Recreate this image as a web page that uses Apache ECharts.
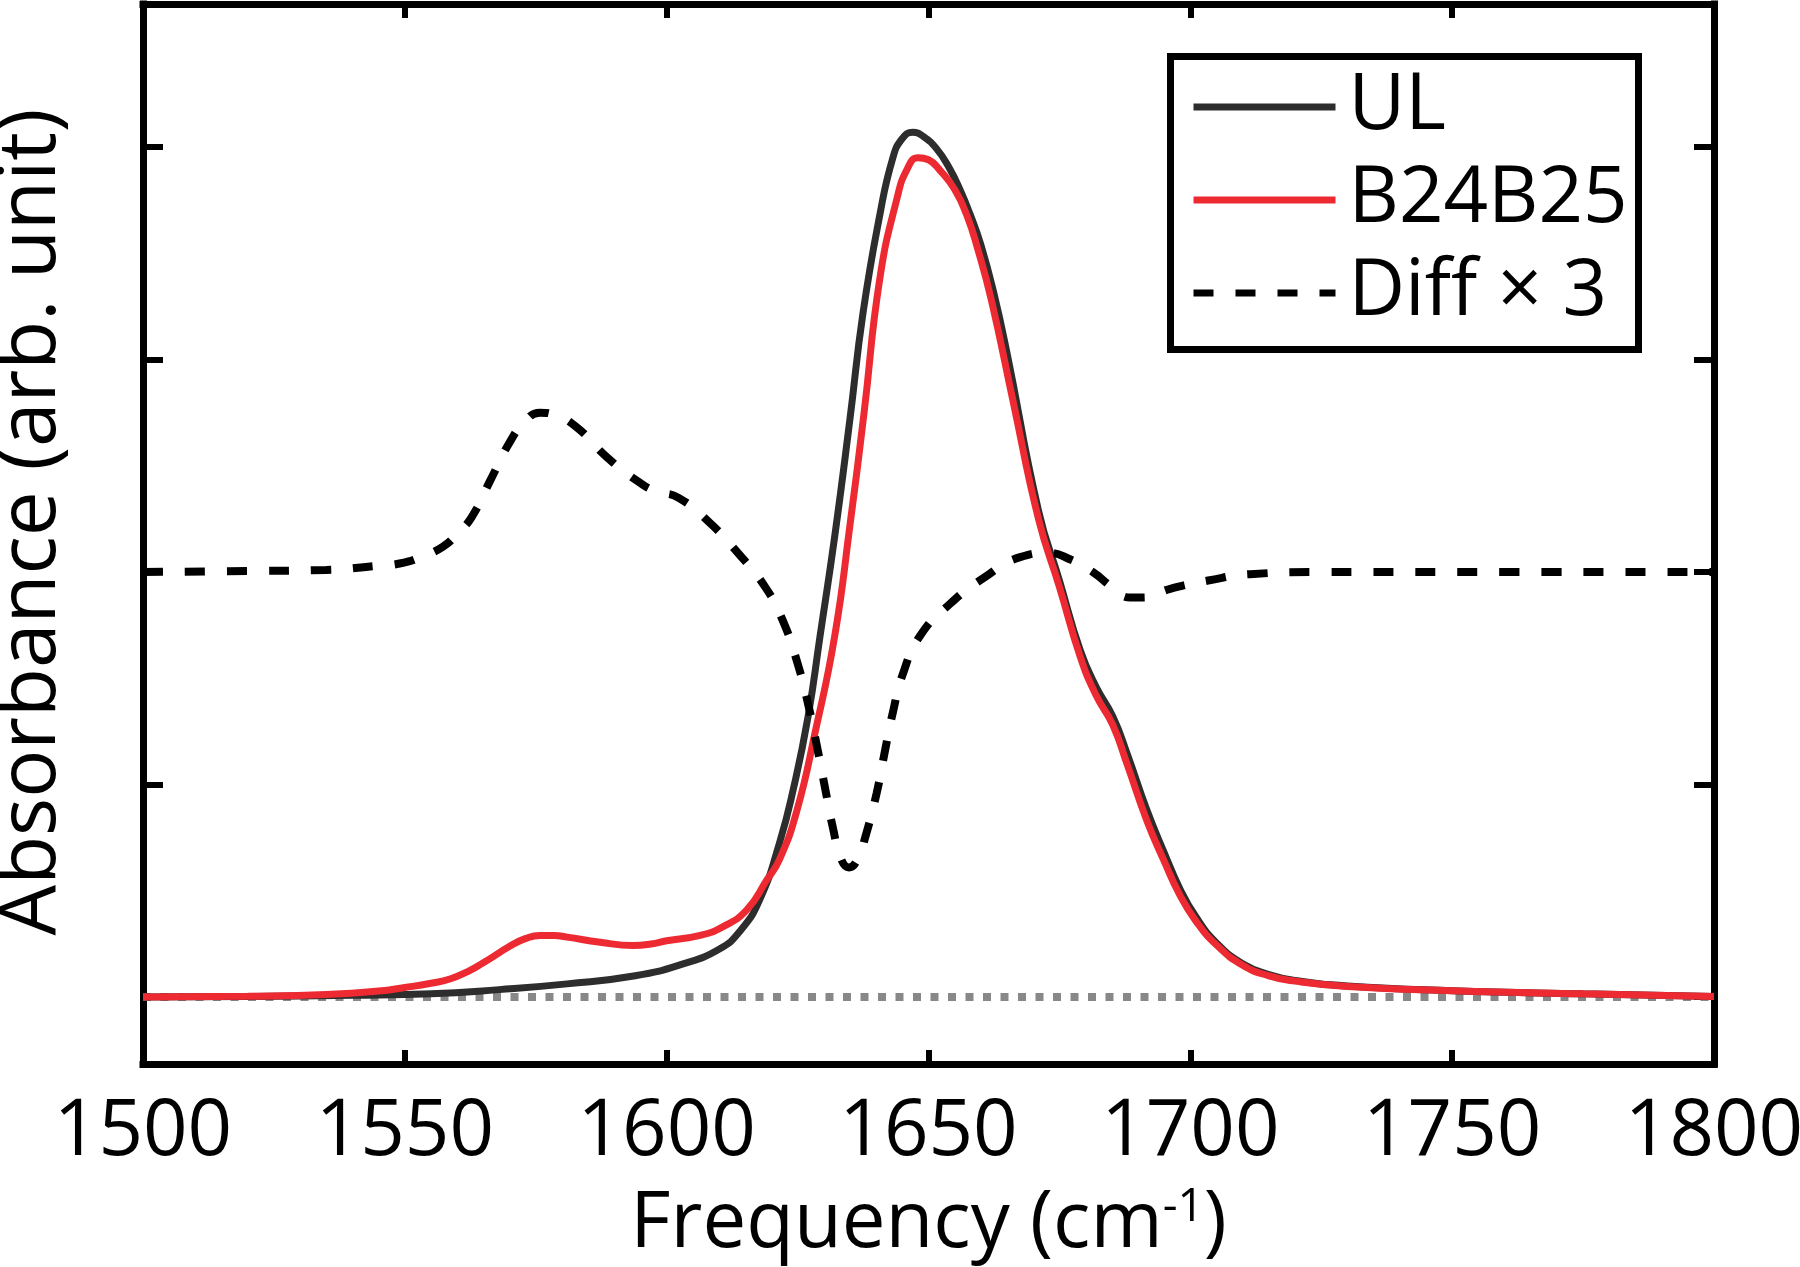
<!DOCTYPE html>
<html>
<head>
<meta charset="utf-8">
<script src="https://cdn.jsdelivr.net/npm/echarts@6/dist/echarts.min.js"></script>
<style>
html,body{margin:0;padding:0;background:#fff;}
#c{width:1800px;height:1267px;}
</style>
</head>
<body>
<div id="c"></div>
<script>
// ---- data ----
const seriesNames = ['UL', 'B24B25', 'Diff \u00d7 3'];

const ulFreq = [1500,1520,1540,1555,1568,1581,1594,1603,1610,1614,1617.8,1621.6,1624.2,1627,1629.3,1632.1,1635,1637.5,1640.7,1643.2,1645,1647,1649,1651.6,1654,1656,1658,1660,1662.5,1665,1671,1675,1679,1682,1685.2,1688,1691.7,1695,1698,1701,1705,1710,1715,1720,1730,1750,1775,1800];
const ulAbs  = [0,0.003,0.008,0.015,0.035,0.062,0.10,0.155,0.225,0.31,0.46,0.73,0.98,1.32,1.70,2.17,2.72,3.22,3.68,3.95,4.04,4.07,4.05,3.99,3.90,3.80,3.68,3.54,3.31,3.03,2.29,1.96,1.63,1.46,1.32,1.14,0.88,0.68,0.51,0.38,0.255,0.157,0.106,0.078,0.052,0.030,0.015,0.003];

const b2Freq = [1500,1520,1535,1545,1550,1555,1558.6,1562,1564.9,1570.1,1573,1575.8,1578.5,1581,1587.3,1593.6,1597,1600,1606.4,1610.7,1615.3,1619.1,1621.6,1624.9,1628.3,1632.1,1635,1637.7,1640.7,1644,1646,1648,1650,1652.2,1655,1657.3,1659.4,1662,1666.1,1671,1675,1679,1682,1685.2,1688,1691.7,1695,1698,1701,1705,1710,1715,1720,1730,1750,1775,1800];
const b2Abs  = [0,0.004,0.012,0.028,0.045,0.065,0.085,0.12,0.16,0.24,0.275,0.29,0.29,0.282,0.258,0.243,0.25,0.265,0.29,0.33,0.41,0.55,0.65,0.88,1.24,1.70,2.22,2.75,3.38,3.76,3.90,3.95,3.94,3.89,3.80,3.68,3.52,3.28,2.81,2.25,1.93,1.60,1.42,1.28,1.09,0.83,0.64,0.48,0.36,0.245,0.15,0.10,0.075,0.05,0.03,0.015,0.003];

const diffFreq = [1500,1520,1535,1545,1549,1553,1557.3,1560,1562.8,1566.3,1570,1573,1575.8,1578.5,1582.9,1588.6,1594.9,1598,1602.2,1608.3,1613.6,1618.8,1622.2,1625,1627,1628.7,1630.2,1631.8,1633.3,1634.8,1636.5,1637.9,1640.1,1641.7,1643.2,1645.1,1648.4,1654.1,1660.4,1667.5,1673,1677,1681.4,1685,1688.5,1691,1696,1703.4,1711.4,1725,1760,1800];
const diffVal  = [2.00,2.005,2.01,2.03,2.04,2.07,2.12,2.18,2.26,2.43,2.61,2.71,2.75,2.74,2.68,2.54,2.42,2.38,2.35,2.23,2.09,1.93,1.77,1.57,1.38,1.18,0.99,0.79,0.65,0.61,0.65,0.75,0.96,1.16,1.34,1.52,1.70,1.85,1.97,2.07,2.09,2.06,2.00,1.93,1.88,1.88,1.92,1.96,1.99,2.00,2.00,2.00];

const baseFreq = [1500, 1800];
const baseVal  = [0, 0];

const xTickValues = [1500,1550,1600,1650,1700,1750,1800];
const yTickValues = [0,1,2,3,4];

const zip = (a, b) => a.map((v, i) => [v, b[i]]);

const FONT = "'Open Sans', 'Noto Sans', sans-serif";
const AX = { color: '#000', width: 7, cap: 'square' };

const chart = echarts.init(document.getElementById('c'), null, { renderer: 'canvas' });

const option = {
  animation: false,
  backgroundColor: '#fff',
  grid: { left: 143, right: 86, top: 4, bottom: 203, containLabel: false, outerBoundsMode: 'none' },
  xAxis: [
    {
      type: 'value', position: 'bottom',
      min: xTickValues[0], max: xTickValues[xTickValues.length - 1], interval: 50,
      axisLine: { show: true, onZero: false, lineStyle: AX },
      axisTick: { show: true, inside: true, length: 14, lineStyle: { color: '#000', width: 6 } },
      axisLabel: { show: true, fontSize: 78, fontFamily: FONT, color: '#000', margin: 30,
                   showMinLabel: true, showMaxLabel: true, hideOverlap: false,
                   formatter: v => String(v) },
      splitLine: { show: false },
      name: 'Frequency (cm{sup|-1})',
      nameLocation: 'middle', nameGap: 121,
      nameTextStyle: {
        fontSize: 78, fontFamily: FONT, color: '#000', lineHeight: 80,
        rich: { sup: { fontSize: 46, fontFamily: FONT, color: '#000', verticalAlign: 'top', lineHeight: 80, padding: [0, 0, 30, 0] } }
      }
    },
    {
      type: 'value', position: 'top',
      min: xTickValues[0], max: xTickValues[xTickValues.length - 1], interval: 50,
      axisLine: { show: true, onZero: false, lineStyle: AX },
      axisTick: { show: true, inside: true, length: 14, lineStyle: { color: '#000', width: 6 } },
      axisLabel: { show: false },
      splitLine: { show: false }
    }
  ],
  yAxis: [
    {
      type: 'value', position: 'left',
      min: -0.315, max: 4.673,
      axisLine: { show: true, onZero: false, lineStyle: AX },
      axisTick: { show: true, inside: true, length: 20, customValues: yTickValues, lineStyle: { color: '#000', width: 6 } },
      axisLabel: { show: false },
      splitLine: { show: false },
      name: 'Absorbance (arb. unit)',
      nameLocation: 'middle', nameGap: 71,
      nameTextStyle: { fontSize: 80, fontFamily: FONT, color: '#000', padding: [0, 0, 0, 24] }
    },
    {
      type: 'value', position: 'right',
      min: -0.315, max: 4.673,
      axisLine: { show: true, onZero: false, lineStyle: AX },
      axisTick: { show: true, inside: true, length: 20, customValues: yTickValues, lineStyle: { color: '#000', width: 6 } },
      axisLabel: { show: false },
      splitLine: { show: false }
    }
  ],
  legend: {
    orient: 'vertical', left: 1190, top: 60.5, padding: 0, itemGap: 0,
    itemWidth: 142, itemHeight: 2,
    itemStyle: { opacity: 0 },
    lineStyle: { width: 7 },
    textStyle: { fontSize: 78, fontFamily: FONT, color: '#000', lineHeight: 93, padding: [0, 0, 0, 8] },
    selectedMode: false,
    data: seriesNames,
    z: 10
  },
  graphic: [
    {
      type: 'rect', z: 5, silent: true,
      shape: { x: 1170.5, y: 56.5, width: 468, height: 293 },
      style: { fill: '#fff', stroke: '#000', lineWidth: 7 }
    }
  ],
  series: [
    {
      name: 'baseline', type: 'line', xAxisIndex: 0, yAxisIndex: 0,
      data: zip(baseFreq, baseVal), symbol: 'none', silent: true,
      lineStyle: { color: '#888888', width: 8, type: [8, 9.5] }, z: 1
    },
    {
      name: seriesNames[0], type: 'line', xAxisIndex: 0, yAxisIndex: 0,
      data: zip(ulFreq, ulAbs), symbol: 'none', smooth: 0.5,
      lineStyle: { color: '#2d2d2d', width: 7 }, itemStyle: { color: '#2d2d2d' }, z: 2
    },
    {
      name: seriesNames[1], type: 'line', xAxisIndex: 0, yAxisIndex: 0,
      data: zip(b2Freq, b2Abs), symbol: 'none', smooth: 0.5,
      lineStyle: { color: '#ed2a32', width: 7 }, itemStyle: { color: '#ed2a32' }, z: 3
    },
    {
      name: seriesNames[2], type: 'line', xAxisIndex: 0, yAxisIndex: 0,
      data: zip(diffFreq, diffVal), symbol: 'none', smooth: 0.5,
      lineStyle: { color: '#000', width: 8, type: [20, 22], cap: 'butt' }, itemStyle: { color: '#000' }, z: 4
    }
  ]
};

chart.setOption(option);
</script>
</body>
</html>
